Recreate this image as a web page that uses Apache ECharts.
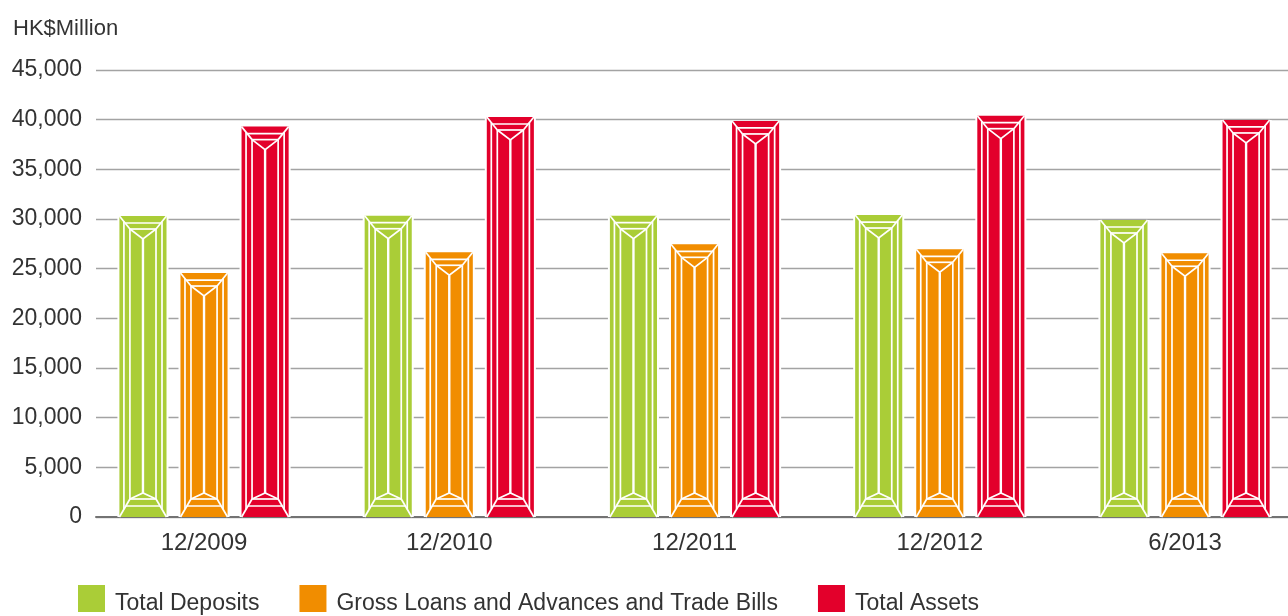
<!DOCTYPE html>
<html>
<head>
<meta charset="utf-8">
<script src="https://cdn.jsdelivr.net/npm/echarts@6/dist/echarts.min.js"></script>
<style>
html,body{margin:0;padding:0;background:#fff;}
#c{width:1288px;height:616px;}
</style>
</head>
<body>
<div id="c"></div>
<script>
const categories = ['12/2009', '12/2010', '12/2011', '12/2012', '6/2013'];
const totalDeposits = [30300, 30330, 30330, 30400, 29900];
const grossLoans = [24560, 26650, 27450, 26950, 26550];
const totalAssets = [39300, 40270, 39870, 40400, 39970];
const seriesNames = ['Total Deposits', 'Gross Loans and Advances and Trade Bills', 'Total Assets'];
const seriesColors = ['#aacd37', '#f18d00', '#e3002b'];
const yTicks = { min: 0, max: 45000, interval: 5000 };
const unitLabel = 'HK$Million';

const FONT = 'Liberation Sans, Arial, sans-serif';

function makeRender(sIdx, color) {
  return function (params, api) {
    const cat = api.value(0), val = api.value(1);
    const top = api.coord([cat, val]);
    const base = api.coord([cat, 0]);
    const band = api.size([1, 0])[0];
    const cx = top[0] + (sIdx - 1) * band * 0.249;
    const w = band * 0.192;
    const x0 = cx - w / 2, x1 = cx + w / 2, y0 = top[1], y1 = base[1];
    const a = 4.5, b = 10.5;
    const t1 = 7, t2 = 13, t3 = 23;
    const bt1 = 11, bt2 = 18, bt3 = 24;
    const ls = { stroke: '#fff', lineWidth: 1.7, fill: null };
    const lsC = { stroke: '#fff', lineWidth: 2.4, fill: null };
    const pl = (pts, st) => ({ type: 'polyline', shape: { points: pts }, style: st || ls });
    const dxT = (t) => b * t / t2;
    const dxB = (t) => b * t / bt2;
    return {
      type: 'group',
      children: [
        { type: 'rect', shape: { x: x0 - 2, y: y0, width: w + 4, height: y1 - y0 }, style: { fill: '#fff' } },
        { type: 'rect', shape: { x: x0, y: y0, width: w, height: y1 - y0 }, style: { fill: color } },
        pl([[x0, y0], [x0 + b, y0 + t2]]),
        pl([[x1, y0], [x1 - b, y0 + t2]]),
        pl([[x0 + dxT(t1), y0 + t1], [x1 - dxT(t1), y0 + t1]]),
        pl([[x0 + b, y0 + t2], [x1 - b, y0 + t2]]),
        pl([[x0 + b, y0 + t2], [cx, y0 + t3], [x1 - b, y0 + t2]]),
        pl([[x0, y1], [x0 + b, y1 - bt2]]),
        pl([[x1, y1], [x1 - b, y1 - bt2]]),
        pl([[x0 + dxB(bt1), y1 - bt1], [x1 - dxB(bt1), y1 - bt1]]),
        pl([[x0 + b, y1 - bt2], [x1 - b, y1 - bt2]]),
        pl([[x0 + b, y1 - bt2], [cx, y1 - bt3], [x1 - b, y1 - bt2]]),
        pl([[x0 + a, y0 + a * t2 / b], [x0 + a, y1 - a * bt2 / b]]),
        pl([[x1 - a, y0 + a * t2 / b], [x1 - a, y1 - a * bt2 / b]]),
        pl([[x0 + b, y0 + t2], [x0 + b, y1 - bt2]]),
        pl([[x1 - b, y0 + t2], [x1 - b, y1 - bt2]]),
        pl([[cx, y0 + t3], [cx, y1 - bt3]], lsC)
      ]
    };
  };
}

const dataSets = [totalDeposits, grossLoans, totalAssets];
const series = dataSets.map((arr, i) => ({
  name: seriesNames[i],
  type: 'custom',
  xAxisIndex: 1,
  yAxisIndex: 1,
  itemStyle: { color: seriesColors[i] },
  renderItem: makeRender(i, seriesColors[i]),
  encode: { x: 0, y: 1 },
  data: arr.map((v, k) => [k, v])
}));

const chart = echarts.init(document.getElementById('c'), null, { renderer: 'canvas' });
chart.setOption({
  animation: false,
  backgroundColor: '#fff',
  textStyle: { fontFamily: FONT },
  title: {
    text: unitLabel, left: 8, top: 13,
    textStyle: { fontFamily: FONT, fontSize: 22, fontWeight: 'normal', color: '#333' }
  },
  legend: {
    left: 78, top: 585, padding: 0, itemWidth: 27, itemHeight: 27, itemGap: 40,
    icon: 'rect',
    formatter: (name) => '{t|' + name + '}',
    textStyle: {
      fontFamily: FONT, fontSize: 23, color: '#333', padding: [0, 0, 0, 5],
      rich: { t: { fontFamily: FONT, fontSize: 23, color: '#333', padding: [11, 0, 0, 0] } }
    },
    data: seriesNames
  },
  grid: [
    { left: 96, right: 0, top: 70, bottom: 99, outerBoundsMode: 'none' },
    { left: 81.4, width: 1226.25, top: 70, bottom: 99, outerBoundsMode: 'none' }
  ],
  xAxis: [
    {
      gridIndex: 0, type: 'category', data: categories,
      axisLine: { show: true, lineStyle: { color: '#737373', width: 2 } },
      axisTick: { show: false }, axisLabel: { show: false }, splitLine: { show: false }
    },
    {
      gridIndex: 1, type: 'category', data: categories,
      axisLine: { show: false }, axisTick: { show: false },
      axisLabel: { show: true, margin: 14, fontFamily: FONT, fontSize: 24, color: '#333' },
      splitLine: { show: false }
    }
  ],
  yAxis: [
    {
      gridIndex: 0, type: 'value', min: yTicks.min, max: yTicks.max, interval: yTicks.interval,
      axisLine: { show: false }, axisTick: { show: false },
      axisLabel: {
        margin: 14, fontFamily: FONT, fontSize: 23, color: '#333',
        formatter: (v) => v.toLocaleString('en-US')
      },
      splitLine: { show: true, lineStyle: { color: '#a3a3a3', width: 1.3 } }
    },
    {
      gridIndex: 1, type: 'value', min: yTicks.min, max: yTicks.max, interval: yTicks.interval,
      show: false, splitLine: { show: false }
    }
  ],
  series: series
});
</script>
</body>
</html>
